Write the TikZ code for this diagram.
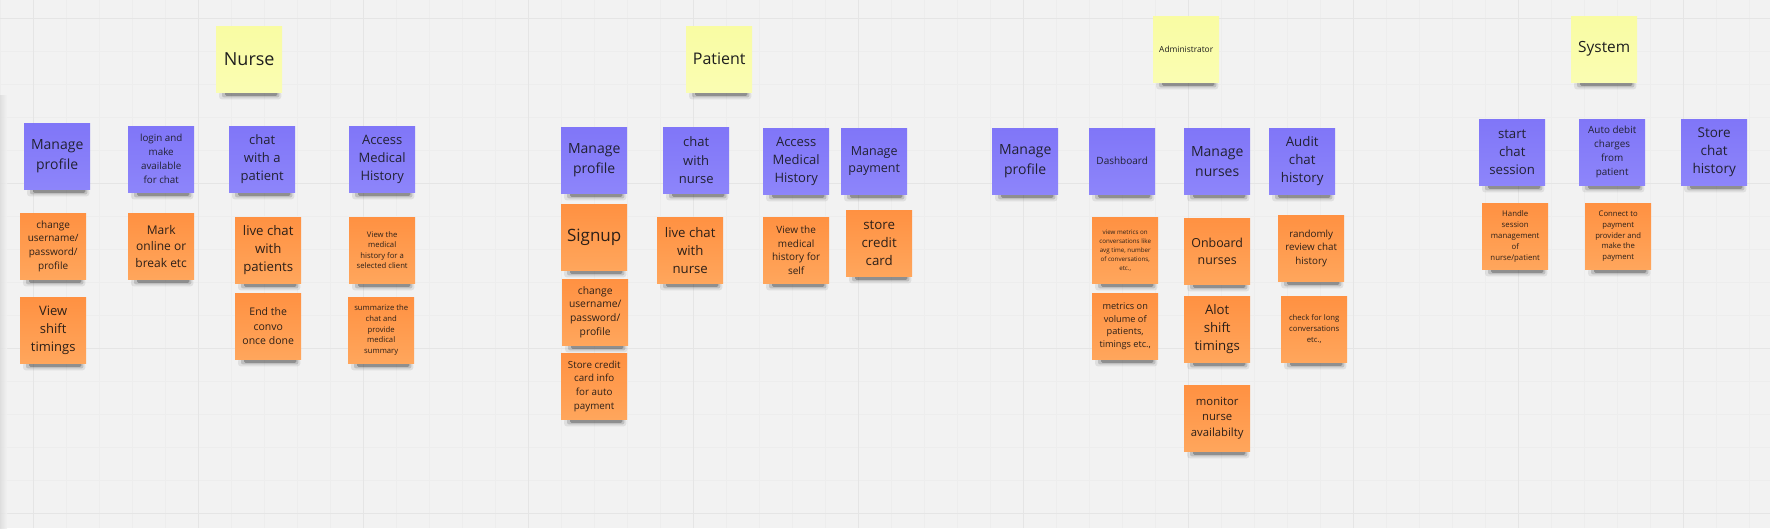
\documentclass[tikz,border=0pt]{standalone}
\usepackage{fontspec}
\setmainfont{Open Sans}
\definecolor{bg}{RGB}{242,242,242}
\definecolor{gminor}{RGB}{237,237,237}
\definecolor{gmajor}{RGB}{229,229,229}
\definecolor{pT}{RGB}{128,118,248}
\definecolor{pB}{RGB}{141,133,250}
\definecolor{oT}{RGB}{255,145,66}
\definecolor{oB}{RGB}{255,166,92}
\definecolor{yT}{RGB}{249,252,163}
\definecolor{yB}{RGB}{250,253,178}
\definecolor{pText}{RGB}{34,34,52}
\definecolor{oText}{RGB}{45,32,24}
\definecolor{yText}{RGB}{30,30,30}
\pgfdeclarelayer{grid}
\pgfdeclarelayer{shadow}
\pgfsetlayers{grid,shadow,main}
\newcommand\fs[2]{\fontsize{#1}{#2}\selectfont}
\newcommand\shd[1]{%
  \fill[black,opacity=0.08,rounded corners=3pt] ([xshift=3pt,yshift=1pt]#1.south west) rectangle ([xshift=-1pt,yshift=-7pt]#1.south east);
  \fill[black,opacity=0.14,rounded corners=2pt] ([xshift=6pt,yshift=1pt]#1.south west) rectangle ([xshift=-3pt,yshift=-5pt]#1.south east);
  \fill[black,opacity=0.25,rounded corners=1.5pt] ([xshift=9pt,yshift=1pt]#1.south west) rectangle ([xshift=-5pt,yshift=-3.5pt]#1.south east);}
\begin{document}
\begin{tikzpicture}[x=1pt,y=-1pt,
  note/.style={inner sep=0pt, minimum width=66pt, minimum height=66pt, align=center, anchor=north west},
  pnote/.style={note, top color=pT, bottom color=pB, text=pText},
  onote/.style={note, top color=oT, bottom color=oB, text=oText},
  ynote/.style={note, top color=yT, bottom color=yB, text=yText},
  minorline/.style={draw=gminor, line width=0.6pt},
  majorline/.style={draw=gmajor, line width=1pt}]
\useasboundingbox (0,0) rectangle (1770,528);
\begin{pgfonlayer}{grid}
  \fill[bg] (0,0) rectangle (1770,528);
  \foreach \x in {0,33,...,1770} {\draw[minorline] (\x,0) -- (\x,528);}
  \foreach \y in {18,51,...,528} {\draw[minorline] (0,\y) -- (1770,\y);}
  \foreach \x in {33,198,...,1770} {\draw[majorline] (\x,0) -- (\x,528);}
  \foreach \y in {18,183,348,513} {\draw[majorline] (0,\y) -- (1770,\y);}
  \shade[left color=black!14, right color=bg, opacity=0.8] (0,95) rectangle (7,528);
\end{pgfonlayer}

% titles
\node[ynote, font=\fs{18}{24}] (tnurse) at (216,26) {Nurse};
\node[ynote, font=\fs{16}{22}] (tpatient) at (686,26) {Patient};
\node[ynote, font=\fs{8.4}{11}] (tadmin) at (1153,16) {Administrator};
\node[ynote, font=\fs{15.4}{21}] (tsystem) at (1571,16) {System};

% nurse
\node[pnote, font=\fs{14}{20}] (np) at (24,123) {Manage\\profile};
\node[pnote, font=\fs{9.8}{14}] (nl) at (128,126) {login and\\make\\available\\for chat};
\node[pnote, font=\fs{13}{18.3}] (nc) at (229,126) {chat\\with a\\patient};
\node[pnote, font=\fs{13}{18.3}] (na) at (349,126) {Access\\Medical\\History};
\node[onote, font=\fs{10}{13.8}] (nu) at (20,213) {change\\username/\\password/\\profile};
\node[onote, font=\fs{13}{18.3}] (nv) at (20,297) {View\\shift\\timings};
\node[onote, font=\fs{12}{16.7}] (nm) at (128,213) {Mark\\online or\\break etc};
\node[onote, font=\fs{13.2}{18}] (nlc) at (235,217) {live chat\\with\\patients};
\node[onote, font=\fs{10.5}{14.5}] (ne) at (235,293) {End the\\convo\\once done};
\node[onote, font=\fs{7.7}{10.2}] (nvm) at (349,217) {View the\\medical\\history for a\\selected client};
\node[onote, font=\fs{7.7}{10.7}] (ns) at (348,297) {summarize the\\chat and\\provide\\medical\\summary};

% patient
\node[pnote, font=\fs{14}{20}] (pp) at (561,127) {Manage\\profile};
\node[pnote, font=\fs{13}{18.3}] (pc) at (663,127) {chat\\with\\nurse};
\node[pnote, font=\fs{13}{18.3}] (pa) at (763,128) {Access\\Medical\\History};
\node[pnote, font=\fs{12.5}{17.3}] (pm) at (841,128) {Manage\\payment};
\node[onote, font=\fs{17}{22}] (psu) at (561,204) {Signup};
\node[onote, font=\fs{10.3}{13.8}] (pu) at (562,279) {change\\username/\\password/\\profile};
\node[onote, font=\fs{9.8}{13.6}] (pst) at (561,353) {Store credit\\card info\\for auto\\payment};
\node[onote, font=\fs{13.2}{18}] (plc) at (657,217) {live chat\\with\\nurse};
\node[onote, font=\fs{10}{13.7}] (pv) at (763,217) {View the\\medical\\history for\\self};
\node[onote, font=\fs{13.3}{18}] (psc) at (846,210) {store\\credit\\card};

% administrator
\node[pnote, font=\fs{14}{20}] (ap) at (992,128) {Manage\\profile};
\node[pnote, font=\fs{10}{14}] (ad) at (1089,128) {Dashboard};
\node[pnote, font=\fs{14}{20}] (an) at (1184,128) {Manage\\nurses};
\node[pnote, font=\fs{13.3}{18.3}] (aa) at (1269,128) {Audit\\chat\\history};
\node[onote, font=\fs{6.2}{9}] (avm) at (1092,217) {view metrics on\\conversations like\\avg time, number\\of conversations,\\etc.,};
\node[onote, font=\fs{9.2}{12.7}] (amv) at (1092,293) {metrics on\\volume of\\patients,\\timings etc.,};
\node[onote, font=\fs{12.4}{17.7}] (ao) at (1184,218) {Onboard\\nurses};
\node[onote, font=\fs{13.2}{18.3}] (aal) at (1184,296) {Alot\\shift\\timings};
\node[onote, font=\fs{11.3}{15.5}] (amn) at (1184,385) {monitor\\nurse\\availabilty};
\node[onote, font=\fs{9.8}{13.5}] (ar) at (1278,215) {randomly\\review chat\\history};
\node[onote, font=\fs{7.7}{10.8}] (ack) at (1281,296) {check for long\\conversations\\etc.,};

% system
\node[pnote, font=\fs{13.2}{18.3}] (ss) at (1479,119) {start\\chat\\session};
\node[pnote, font=\fs{9.9}{14}] (sa) at (1579,119) {Auto debit\\charges\\from\\patient};
\node[pnote, font=\fs{13.5}{18.3}] (sh) at (1681,119) {Store\\chat\\history};
\node[onote, font=\fs{7.8}{10.9}] (sm) at (1482,203) {Handle\\session\\management\\of\\nurse/patient};
\node[onote, font=\fs{7.7}{10.9}] (sp) at (1585,203) {Connect to\\payment\\provider and\\make the\\payment};

\begin{pgfonlayer}{shadow}
\foreach \n in {tnurse,tpatient,tadmin,tsystem,np,nl,nc,na,nu,nv,nm,nlc,ne,nvm,ns,pp,pc,pa,pm,psu,pu,pst,plc,pv,psc,ap,ad,an,aa,avm,amv,ao,aal,amn,ar,ack,ss,sa,sh,sm,sp} {\shd{\n}}
\end{pgfonlayer}
\end{tikzpicture}
\end{document}
